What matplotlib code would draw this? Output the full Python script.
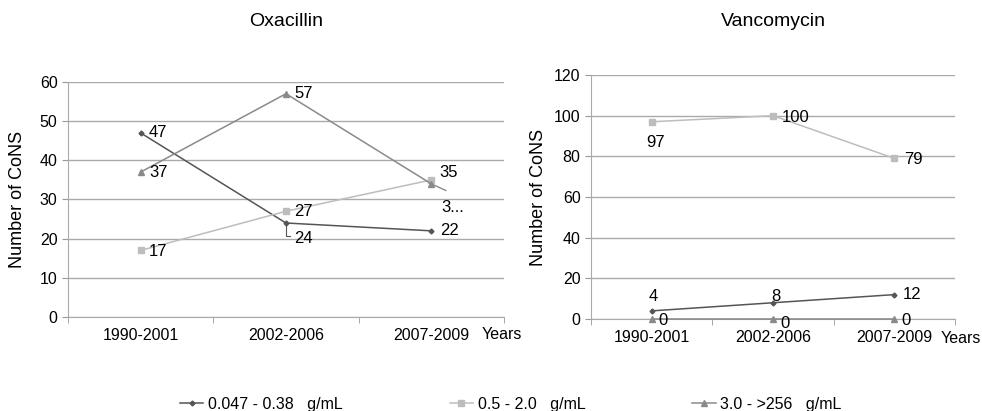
import matplotlib
matplotlib.use('Agg')
import matplotlib.pyplot as plt

periods = ['1990-2001', '2002-2006', '2007-2009']
series_names = ['0.047 - 0.38   g/mL', '0.5 - 2.0   g/mL', '3.0 - >256   g/mL']

oxa_low = [47, 24, 22]
oxa_mid = [17, 27, 35]
oxa_high = [37, 57, 34]

vanco_low = [4, 8, 12]
vanco_mid = [97, 100, 79]
vanco_high = [0, 0, 0]

colors = ['#555555', '#bdbdbd', '#8a8a8a']
markers = ['D', 's', '^']
msizes = [2.5, 4.5, 5]

plt.rcParams['font.family'] = ['Liberation Sans', 'DejaVu Sans']

W, H = 982, 411
fig = plt.figure(figsize=(9.82, 4.11), dpi=100)
ax1 = fig.add_axes([0.0692, 0.2287, 0.4440, 0.5718])
ax2 = fig.add_axes([0.6018, 0.2238, 0.3707, 0.5937])


def style_axes(ax, ymax, step):
    ax.set_xlim(-0.5, 2.5)
    ax.set_ylim(0, ymax)
    ax.set_yticks(range(0, ymax + 1, step))
    ax.set_xticks(range(3))
    ax.set_xticklabels(periods, fontsize=11.5)
    ax.set_xticks([-0.5, 0.5, 1.5, 2.5], minor=True)
    ax.tick_params(axis='x', which='major', length=0, pad=8)
    ax.tick_params(axis='x', which='minor', length=4, color='#999999')
    ax.tick_params(axis='y', length=4, color='#999999', labelsize=11.5)
    ax.yaxis.grid(True, color='#aaaaaa', linewidth=1)
    ax.set_axisbelow(True)
    for s in ['top', 'right']:
        ax.spines[s].set_visible(False)
    for s in ['left', 'bottom']:
        ax.spines[s].set_color('#aaaaaa')
    ax.set_ylabel('Number of CoNS', fontsize=13)


style_axes(ax1, 60, 10)
style_axes(ax2, 120, 20)
ax1.yaxis.set_label_coords(-0.096, 0.5)
ax2.yaxis.set_label_coords(-0.121, 0.5)

fig.text(286 / W, 1 - 22 / H, 'Oxacillin', fontsize=14, ha='center', va='center')
fig.text(773 / W, 1 - 22 / H, 'Vancomycin', fontsize=14, ha='center', va='center')
fig.text(502 / W, 1 - 334 / H, 'Years', fontsize=11.5, ha='center', va='center')
fig.text(981 / W, 1 - 338 / H, 'Years', fontsize=11.5, ha='right', va='center')

lines = []
for ax, data in [(ax1, [oxa_low, oxa_mid, oxa_high]), (ax2, [vanco_low, vanco_mid, vanco_high])]:
    for i, vals in enumerate(data):
        ln, = ax.plot(range(3), vals, color=colors[i], marker=markers[i],
                      markersize=msizes[i], linewidth=1.1, clip_on=False, zorder=3)
        if ax is ax1:
            lines.append(ln)


# data labels (offset in points)
def lab(ax, x, y, txt, dx=6, dy=0):
    ax.annotate(txt, (x, y), xytext=(dx, dy), textcoords='offset points',
                fontsize=12, va='center', ha='left')


lab(ax1, 0, oxa_low[0], '47')
lab(ax1, 1, oxa_low[1], '24', dx=6, dy=-11)
ax1.plot([1, 1, 1.03], [oxa_low[1], oxa_low[1] - 3.4, oxa_low[1] - 3.4], color='#555555', linewidth=0.8)
lab(ax1, 2, oxa_low[2], '22')
lab(ax1, 0, oxa_mid[0], '17', dy=-1)
lab(ax1, 1, oxa_mid[1], '27')
lab(ax1, 2, oxa_mid[2], '35', dy=5)
lab(ax1, 0, oxa_high[0], '37')
lab(ax1, 1, oxa_high[1], '57')
ax1.plot([2, 2.1], [oxa_high[2], oxa_high[2] - 1.7], color=colors[2], linewidth=1)
lab(ax1, 2, oxa_high[2], '3...', dx=7, dy=-17)

lab(ax2, 0, vanco_low[0], '4', dx=-2, dy=10)
lab(ax2, 1, vanco_low[1], '8', dx=-1, dy=4.5)
lab(ax2, 2, vanco_low[2], '12')
lab(ax2, 0, vanco_mid[0], '97', dx=-3.6, dy=-15)
lab(ax2, 1, vanco_mid[1], '100', dx=6.5, dy=-1.5)
lab(ax2, 2, vanco_mid[2], '79', dx=7, dy=-1)
for i in range(3):
    lab(ax2, i, vanco_high[i], '0', dx=5, dy=-1 if i != 1 else -3)

fig.legend(lines, series_names, loc='center left', bbox_to_anchor=(180 / W, 1 - 404 / H),
           ncol=3, frameon=False, fontsize=11.5, columnspacing=6.7, handlelength=1.45,
           handletextpad=0.3, borderpad=0, borderaxespad=0)

fig.savefig('out.png', dpi=100)
